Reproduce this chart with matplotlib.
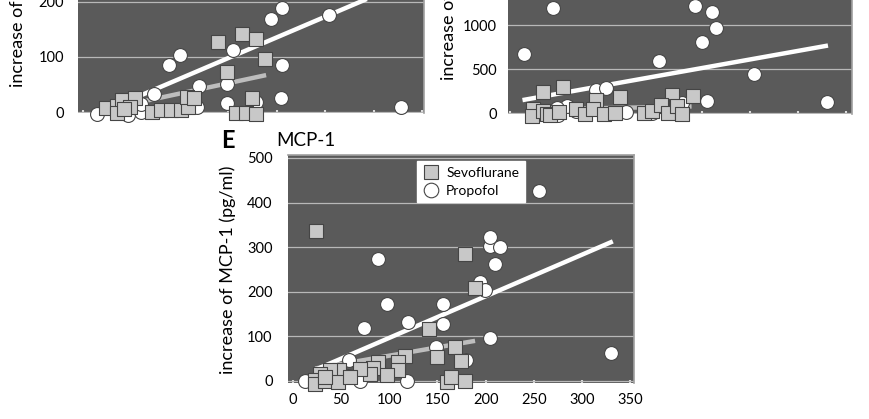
import matplotlib
matplotlib.use("Agg")
import matplotlib.pyplot as plt
from matplotlib.lines import Line2D

plt.rcParams['font.family'] = ['Lato', 'DejaVu Sans']

W, H = 870, 419

# panel with cut-off label, top left (x = pre value, y = increase)
prop_a_x = [14, 46, 60, 60, 73, 89, 100, 118, 120, 149, 149, 155, 179, 194, 205, 205, 204, 254, 328]
prop_a_y = [-3, -5, 0, 14, 33, 86, 103, 10, 47, 17, 50, 113, 18, 168, 188, 86, 26, 177, 10]
sevo_a_x = [24, 35, 40, 54, 48, 35, 42, 71, 81, 91, 101, 108, 107, 115, 139, 164, 179, 149, 188, 174, 158, 168, 179]
sevo_a_y = [8, 11, 21, 25, 9, -2, 6, 0, 3, 4, 3, 10, 27, 25, 128, 142, 132, 73, 96, 25, -1, -1, -4]
fit_prop_a = ([14, 330], [-4, 233])
fit_sevo_a = ([24, 189], [5, 67])

# top right panel
prop_b_x = [15, 45, 89, 100, 155, 193, 210, 214, 200, 205, 254, 330, 59, 50, 69, 121, 148, 179, 49]
prop_b_y = [669, 1199, 259, 285, 586, 1214, 1150, 970, 812, 135, 447, 128, 79, -20, 23, 15, 4, 109, 60]
sevo_b_x = [34, 55, 90, 115, 169, 190, 158, 24, 23, 34, 38, 42, 51, 69, 78, 86, 98, 109, 139, 148, 157, 164, 174, 179]
sevo_b_y = [237, 293, 143, 184, 203, 192, 79, 41, -30, 19, -15, -26, 11, 41, -8, 49, -8, 4, -4, 23, 86, -4, 79, -8]
fit_prop_b = ([13, 331], [147, 767])
fit_sevo_b = ([24, 189], [40, 75])

# panel E, MCP-1
prop_e_x = [12, 57, 58, 70, 88, 74, 98, 119, 118, 156, 156, 148, 180, 194, 199, 204, 204, 215, 210, 204, 255, 330]
prop_e_y = [0, 11, 46, 0, 274, 119, 172, 132, 0, 173, 128, 76, 48, 223, 203, 302, 322, 301, 263, 97, 427, 63]
sevo_e_x = [24, 179, 189, 141, 168, 174, 149, 116, 109, 109, 88, 83, 80, 70, 98, 48, 38, 28, 23, 23, 33, 47, 59, 160, 164, 179, 33]
sevo_e_y = [337, 284, 208, 116, 76, 45, 54, 57, 43, 24, 43, 30, 15, 28, 13, 24, 24, 16, 2, -6, 0, -3, 9, -3, 10, 0, 9]
fit_prop_e = ([23, 332], [25, 313])
fit_sevo_e = ([23, 189], [28, 90])

x_ticks = [0, 50, 100, 150, 200, 250, 300, 350]

BG = '#5a5a5a'
GRID = '#b8b8b8'
SQ = '#c8c8c8'
EDGE = '#454545'


def make_axes(left, right, top, bottom):
    # pixel box -> figure fraction
    return fig.add_axes([left / W, 1 - bottom / H, (right - left) / W, (bottom - top) / H])


def draw_panel(ax, px, py, sx, sy, fp, fs, yticks, ypad):
    ax.set_facecolor(BG)
    ax.plot(*fs, color='#bdbdbd', lw=3.2, solid_capstyle='butt', zorder=2)
    ax.plot(*fp, color='white', lw=3.2, solid_capstyle='butt', zorder=2)
    ax.scatter(px, py, s=100, marker='o', facecolor='white', edgecolor=EDGE,
               linewidth=0.8, zorder=3, clip_on=False)
    ax.scatter(sx, sy, s=95, marker='s', facecolor=SQ, edgecolor=EDGE,
               linewidth=0.8, zorder=4, clip_on=False)
    ax.set_yticks(yticks)
    ax.set_xticks(x_ticks)
    ax.grid(axis='y', color=GRID, lw=0.9)
    ax.set_axisbelow(True)
    ax.tick_params(axis='y', length=0, pad=ypad, labelsize=10.5)
    ax.tick_params(axis='x', direction='in', length=2, width=1.5, color='#dddddd',
                   labelsize=10.5, pad=7)
    for side in ['left', 'bottom']:
        ax.spines[side].set_visible(False)
    for side in ['top', 'right']:
        ax.spines[side].set_color('#a0a0a0')
        ax.spines[side].set_linewidth(1.2)


fig = plt.figure(figsize=(W / 100, H / 100), dpi=100)

# top left
ax_a = make_axes(78, 424, -40, 113)
draw_panel(ax_a, prop_a_x, prop_a_y, sevo_a_x, sevo_a_y, fit_prop_a, fit_sevo_a, [0, 100, 200], 10)
ax_a.set_xlim(-5.2, 352)
ax_a.set_ylim(-1.8, 276)
ax_a.tick_params(axis='x', labelbottom=False)
fig.text(18 / W, 1 - 87 / H, 'increase of IL-6 (pg/ml)', rotation=90, ha='center', va='bottom',
         fontsize=13)

# top right
ax_b = make_axes(508, 852, -40, 114)
draw_panel(ax_b, prop_b_x, prop_b_y, sevo_b_x, sevo_b_y, fit_prop_b, fit_sevo_b, [0, 500, 1000, 1500], 8)
ax_b.set_xlim(-2.1, 356)
ax_b.set_ylim(-11, 1739)
ax_b.tick_params(axis='x', labelbottom=False)
fig.text(449 / W, 1 - 80 / H, 'increase of IL-8 (pg/ml)', rotation=90, ha='center', va='bottom',
         fontsize=13)

# panel E
ax_e = make_axes(288, 634, 155, 383)
draw_panel(ax_e, prop_e_x, prop_e_y, sevo_e_x, sevo_e_y, fit_prop_e, fit_sevo_e, [0, 100, 200, 300, 400, 500], 11)
ax_e.set_xlim(-5.2, 354)
ax_e.set_ylim(-4.5, 506.7)
ax_e.set_ylabel('increase of MCP-1 (pg/ml)', fontsize=13)
ax_e.yaxis.set_label_coords((236 - 288) / (634 - 288), 0.495)

fig.text(221 / W, 1 - 141 / H, 'E', fontsize=17, fontweight='bold', va='center', ha='left')
fig.text(276 / W, 1 - 141 / H, 'MCP-1', fontsize=13.5, va='center', ha='left')

handles = [
    Line2D([], [], marker='s', ls='none', markersize=10, markerfacecolor=SQ, markeredgecolor=EDGE,
           markeredgewidth=0.8, label='Sevoflurane'),
    Line2D([], [], marker='o', ls='none', markersize=10.5, markerfacecolor='white',
           markeredgecolor=EDGE, markeredgewidth=0.8, label='Propofol'),
]
leg = ax_e.legend(handles=handles, loc='upper left', bbox_to_anchor=(417 / W, 1 - 161 / H),
                  bbox_transform=fig.transFigure, fancybox=False, framealpha=1,
                  edgecolor='white', fontsize=10, borderpad=0.4, labelspacing=0.45,
                  handletextpad=0.5, handlelength=1.2, borderaxespad=0)
leg.set_zorder(2.5)

fig.savefig('out.png', dpi=100)
